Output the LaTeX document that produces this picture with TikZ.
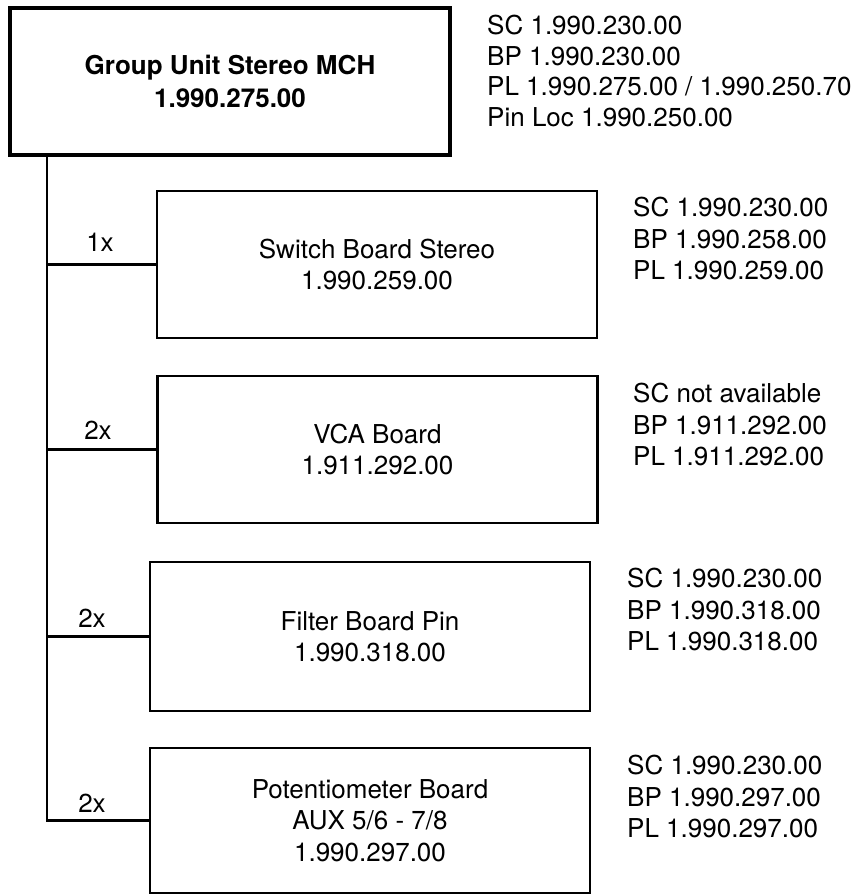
\documentclass[tikz,border=0pt]{standalone}
\usepackage{fontspec}
\setmainfont{TeX Gyre Heros}
\begin{document}
\begin{tikzpicture}[x=1pt, y=-1pt,
    board/.style={draw, line width=2.2pt, minimum width=440pt, minimum height=147pt,
      align=center, inner sep=0pt, font=\fontsize{26}{31.5}\selectfont},
    parts/.style={anchor=north west, align=left, inner sep=0pt, font=\fontsize{26}{31.5}\selectfont},
    count/.style={inner sep=0pt, font=\fontsize{26}{31}\selectfont},
    wire/.style={line width=2.6pt}]
        \useasboundingbox (0,0) rectangle (865,895);
        % Group unit
        \node[board, line width=3.4pt, font=\fontsize{26}{33}\selectfont\bfseries] (top) at (230,81.5)
          {Group Unit Stereo MCH\\1.990.275.00};
        \node[parts, font=\fontsize{26}{30.5}\selectfont] (topnr) at (487,15)
          {SC 1.990.230.00\\BP 1.990.230.00\\PL 1.990.275.00 / 1.990.250.70\\Pin Loc 1.990.250.00};
        % Boards
        \node[board] (sw) at (377,264.5) {Switch Board Stereo\\1.990.259.00};
        \node[board] (vca) at (377.5,449.5) {VCA Board\\1.911.292.00};
        \node[board, minimum height=149pt] (filt) at (370,636.5) {Filter Board Pin\\1.990.318.00};
        \node[board, minimum height=145pt] (pot) at (370,820.5) {Potentiometer Board\\AUX 5/6 - 7/8\\1.990.297.00};
        % Part numbers
        \node[parts] (swnr) at (633,197) {SC 1.990.230.00\\BP 1.990.258.00\\PL 1.990.259.00};
        \node[parts] (vcanr) at (633,383) {SC not available\\BP 1.911.292.00\\PL 1.911.292.00};
        \node[parts] (filtnr) at (627,568) {SC 1.990.230.00\\BP 1.990.318.00\\PL 1.990.318.00};
        \node[parts] (potnr) at (627,755) {SC 1.990.230.00\\BP 1.990.297.00\\PL 1.990.297.00};
        % Tree lines
        \coordinate (trunk) at (47,155);
        \draw[wire] (trunk) |- (pot.west);
        \draw[wire] (trunk |- sw.west) -- (sw.west);
        \draw[wire] (trunk |- vca.west) -- (vca.west);
        \draw[wire] (trunk |- filt.west) -- (filt.west);
        % Counts
        \node[count] (c1) at (100,242) {1x};
        \node[count] (c2) at (98,430) {2x};
        \node[count] (c3) at (92,618) {2x};
        \node[count] (c4) at (92,803) {2x};
      \end{tikzpicture}
\end{document}
